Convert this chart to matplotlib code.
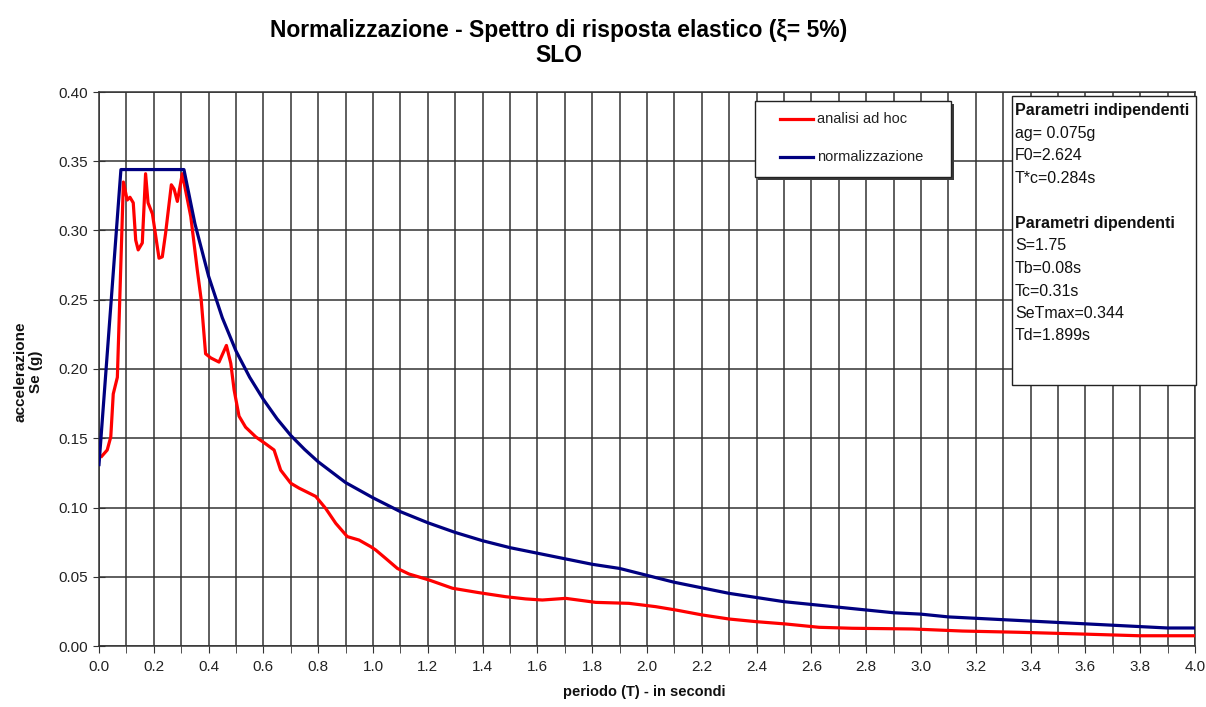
import matplotlib
matplotlib.use("Agg")
import matplotlib.pyplot as plt
from matplotlib.patches import Rectangle
from matplotlib.lines import Line2D
from matplotlib.ticker import MultipleLocator, FormatStrFormatter

plt.rcParams["font.family"] = ["Liberation Sans", "DejaVu Sans"]

# spettro normalizzato (NTC) - periodo [s], Se [g]
T_norm = [0.0, 0.08, 0.31, 0.35, 0.40, 0.45, 0.50, 0.55, 0.60, 0.65, 0.70, 0.75,
          0.80, 0.90, 1.00, 1.10, 1.20, 1.30, 1.40, 1.50, 1.60, 1.70, 1.80, 1.90,
          2.00, 2.10, 2.20, 2.30, 2.40, 2.50, 2.60, 2.70, 2.80, 2.90, 3.00, 3.10,
          3.20, 3.30, 3.40, 3.50, 3.60, 3.70, 3.80, 3.90, 4.00]
Se_norm = [0.131, 0.344, 0.344, 0.305, 0.267, 0.237, 0.213, 0.194, 0.178, 0.164,
           0.152, 0.142, 0.133, 0.118, 0.107, 0.097, 0.089, 0.082, 0.076, 0.071,
           0.067, 0.063, 0.059, 0.056, 0.051, 0.046, 0.042, 0.038, 0.035, 0.032,
           0.030, 0.028, 0.026, 0.024, 0.023, 0.021, 0.020, 0.019, 0.018, 0.017,
           0.016, 0.015, 0.014, 0.013, 0.013]

# spettro da analisi di risposta sismica locale
T_adhoc = [0.01, 0.03, 0.043, 0.052, 0.067, 0.089, 0.103, 0.113, 0.125, 0.134,
           0.143, 0.158, 0.170, 0.179, 0.195, 0.219, 0.231, 0.243, 0.264, 0.274,
           0.286, 0.304, 0.335, 0.359, 0.373, 0.389, 0.408, 0.438, 0.465, 0.481,
           0.493, 0.511, 0.535, 0.572, 0.608, 0.639, 0.663, 0.700, 0.730, 0.791,
           0.827, 0.864, 0.906, 0.949, 0.992, 1.010, 1.046, 1.089, 1.131, 1.204,
           1.290, 1.387, 1.484, 1.557, 1.618, 1.703, 1.813, 1.934, 2.032, 2.105,
           2.202, 2.299, 2.397, 2.506, 2.628, 2.749, 2.968, 3.151, 3.358, 3.577,
           3.796, 4.0]
Se_adhoc = [0.137, 0.1415, 0.151, 0.182, 0.194, 0.335, 0.322, 0.324, 0.320, 0.293,
            0.286, 0.291, 0.341, 0.320, 0.312, 0.280, 0.281, 0.298, 0.333, 0.330,
            0.321, 0.341, 0.310, 0.271, 0.250, 0.211, 0.208, 0.205, 0.217, 0.204,
            0.185, 0.166, 0.158, 0.151, 0.146, 0.1415, 0.127, 0.1175, 0.114, 0.108,
            0.0994, 0.0886, 0.079, 0.0765, 0.0717, 0.0693, 0.0633, 0.056, 0.052, 0.0477,
            0.0417, 0.0385, 0.0356, 0.034, 0.0332, 0.0344, 0.0315, 0.0308, 0.0284, 0.026,
            0.0224, 0.0195, 0.0176, 0.0159, 0.0135, 0.0128, 0.0123, 0.0108, 0.0099, 0.0087,
            0.0074, 0.0074]

param_lines = [
    ("Parametri indipendenti", True),
    ("ag= 0.075g", False),
    ("F0=2.624", False),
    ("T*c=0.284s", False),
    ("", False),
    ("Parametri dipendenti", True),
    ("S=1.75", False),
    ("Tb=0.08s", False),
    ("Tc=0.31s", False),
    ("SeTmax=0.344", False),
    ("Td=1.899s", False),
]

W, H = 1206, 707
fig = plt.figure(figsize=(W / 100, H / 100), dpi=100)
ax = fig.add_axes([99 / W, (H - 646) / H, (1195 - 99) / W, (646 - 92) / H])

def fx(px):
    return px / W

def fy(py):
    return (H - py) / H

grid_c = "#333333"
red_c, blue_c = "#ff0000", "#000080"
ax.plot(T_adhoc, Se_adhoc, color=red_c, lw=2.3, label="analisi ad hoc", zorder=3)
ax.plot(T_norm, Se_norm, color=blue_c, lw=2.3, label="normalizzazione", zorder=4)

ax.set_xlim(0, 4.0)
ax.set_ylim(0, 0.40)
ax.xaxis.set_major_locator(MultipleLocator(0.2))
ax.xaxis.set_minor_locator(MultipleLocator(0.1))
ax.yaxis.set_major_locator(MultipleLocator(0.05))
ax.xaxis.set_major_formatter(FormatStrFormatter("%.1f"))
ax.yaxis.set_major_formatter(FormatStrFormatter("%.2f"))
ax.grid(which="both", color=grid_c, lw=1.1)
ax.set_axisbelow(True)
ax.tick_params(axis="x", which="both", direction="out", length=5, color=grid_c,
               labelsize=11, labelcolor="#222222", pad=5)
ax.tick_params(axis="y", direction="inout", length=8, color=grid_c,
               labelsize=11, labelcolor="#222222", pad=4)
for s in ax.spines.values():
    s.set_color(grid_c)
    s.set_linewidth(1.1)

# legenda con ombra
fig.add_artist(Rectangle((fx(758), fy(180)), fx(196), 76 / H, transform=fig.transFigure,
                         facecolor="#3a3a3a", edgecolor="none", zorder=5))
fig.add_artist(Rectangle((fx(755), fy(177)), fx(196), 76 / H, transform=fig.transFigure,
                         facecolor="white", edgecolor="#222222", lw=1.0, zorder=6))
for yy, c, lab in [(119, red_c, "analisi ad hoc"), (157, blue_c, "normalizzazione")]:
    fig.add_artist(Line2D([fx(780), fx(813)], [fy(yy), fy(yy)], color=c, lw=2.3,
                          transform=fig.transFigure, zorder=7))
    fig.text(fx(817), fy(yy), lab, fontsize=10.5, va="center", ha="left",
             color="#222222", zorder=7)

# riquadro parametri
fig.add_artist(Rectangle((fx(1012), fy(385)), fx(1196 - 1012), (385 - 96) / H,
                         transform=fig.transFigure, facecolor="white",
                         edgecolor="#222222", lw=1.0, zorder=5))
for i, (txt, bold) in enumerate(param_lines):
    fig.text(fx(1015), fy(111 + i * 22.5), txt, fontsize=11.5,
             fontweight="bold" if bold else "normal", va="center", ha="left",
             color="#111111", zorder=6)

fig.text(fx(559), fy(30), "Normalizzazione - Spettro di risposta elastico (ξ= 5%)",
         ha="center", va="center", fontsize=16.5, fontweight="bold")
fig.text(fx(559), fy(55), "SLO", ha="center", va="center", fontsize=16.5,
         fontweight="bold")
fig.text(fx(644), fy(692), "periodo (T) - in secondi", ha="center", va="center",
         fontsize=10.5, fontweight="bold", color="#111111")
fig.text(fx(28), fy(372), "accelerazione\nSe (g)", ha="center", va="center",
         rotation=90, fontsize=11, fontweight="bold", color="#111111", linespacing=1.1)

fig.savefig("out.png", dpi=100)
